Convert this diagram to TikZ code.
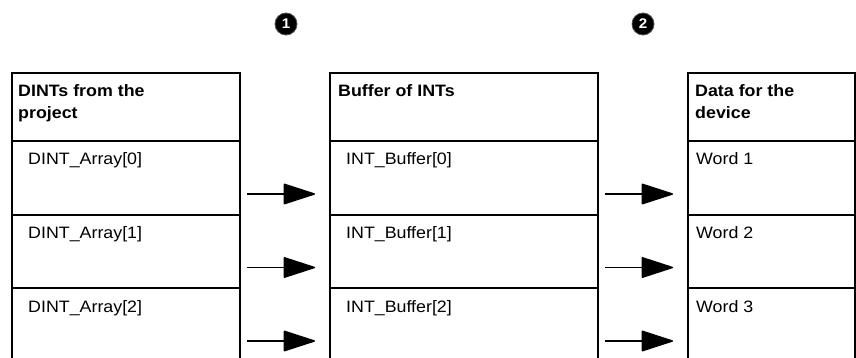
\documentclass[tikz,border=0pt]{standalone}
\usepackage{fontspec}
\setmainfont{Liberation Sans}[FakeStretch=1.08]
\usetikzlibrary{arrows.meta}
\tikzset{
  cellbox/.style={draw=black, line width=2pt, anchor=north west, inner sep=0pt, minimum height=#1},
  hdtext/.style={anchor=base west, inner sep=0pt, font=\fontsize{16.5}{20}\selectfont\bfseries},
  bodytext/.style={anchor=base west, inner sep=0pt, font=\fontsize{16.5}{20}\selectfont},
  flowarrow/.style={line width=1.5pt, -{Triangle[length=33pt,width=21pt,round]}},
  badge/.style={circle, fill=black, draw=black!70, line width=0.8pt, text=white, inner sep=0pt, minimum size=22pt, font=\fontsize{14}{14}\selectfont\bfseries}
}
\begin{document}
\begin{tikzpicture}[x=1pt,y=-1pt]
\useasboundingbox (0,0) rectangle (856,358);
% badges
\node[badge] (b1) at (286,24) {1};
\node[badge] (b2) at (643,24) {2};
% table 1
\node[cellbox=68pt, minimum width=228pt] (t1h) at (11,72) {};
\node[cellbox=73.5pt, minimum width=228pt] (t1r0) at (11,140) {};
\node[cellbox=73.5pt, minimum width=228pt] (t1r1) at (11,213.5) {};
\node[cellbox=73.5pt, minimum width=228pt] (t1r2) at (11,287) {};
% table 2
\node[cellbox=68pt, minimum width=268pt] (t2h) at (329,72) {};
\node[cellbox=73.5pt, minimum width=268pt] (t2r0) at (329,140) {};
\node[cellbox=73.5pt, minimum width=268pt] (t2r1) at (329,213.5) {};
\node[cellbox=73.5pt, minimum width=268pt] (t2r2) at (329,287) {};
% table 3
\node[cellbox=68pt, minimum width=167pt] (t3h) at (687,72) {};
\node[cellbox=73.5pt, minimum width=167pt] (t3r0) at (687,140) {};
\node[cellbox=73.5pt, minimum width=167pt] (t3r1) at (687,213.5) {};
\node[cellbox=73.5pt, minimum width=167pt] (t3r2) at (687,287) {};
% texts
\node[hdtext] (h1a) at (18,97) {DINTs from the};
\node[hdtext] (h1b) at (18,119) {project};
\node[hdtext] (h2a) at (338,97) {Buffer of INTs};
\node[hdtext] (h3a) at (695,97) {Data for the};
\node[hdtext] (h3b) at (695,119) {device};
\node[bodytext] (d0) at (28,165) {DINT\_Array[0]};
\node[bodytext] (d1) at (28,238.5) {DINT\_Array[1]};
\node[bodytext] (d2) at (28,312) {DINT\_Array[2]};
\node[bodytext] (i0) at (346,165) {INT\_Buffer[0]};
\node[bodytext] (i1) at (346,238.5) {INT\_Buffer[1]};
\node[bodytext] (i2) at (346,312) {INT\_Buffer[2]};
\node[bodytext] (w0) at (696,165) {Word 1};
\node[bodytext] (w1) at (696,238.5) {Word 2};
\node[bodytext] (w2) at (696,312) {Word 3};
% arrow ends
\coordinate (a0s) at (247,194);
\coordinate (a0e) at (315,194);
\coordinate (a1s) at (247,267.5);
\coordinate (a1e) at (315,267.5);
\coordinate (a2s) at (247,341);
\coordinate (a2e) at (315,341);
\coordinate (c0s) at (605,194);
\coordinate (c0e) at (673,194);
\coordinate (c1s) at (605,267.5);
\coordinate (c1e) at (673,267.5);
\coordinate (c2s) at (605,341);
\coordinate (c2e) at (673,341);
\draw[flowarrow] (a0s) -- (a0e);
\draw[flowarrow] (a1s) -- (a1e);
\draw[flowarrow] (a2s) -- (a2e);
\draw[flowarrow] (c0s) -- (c0e);
\draw[flowarrow] (c1s) -- (c1e);
\draw[flowarrow] (c2s) -- (c2e);
\end{tikzpicture}
\end{document}
